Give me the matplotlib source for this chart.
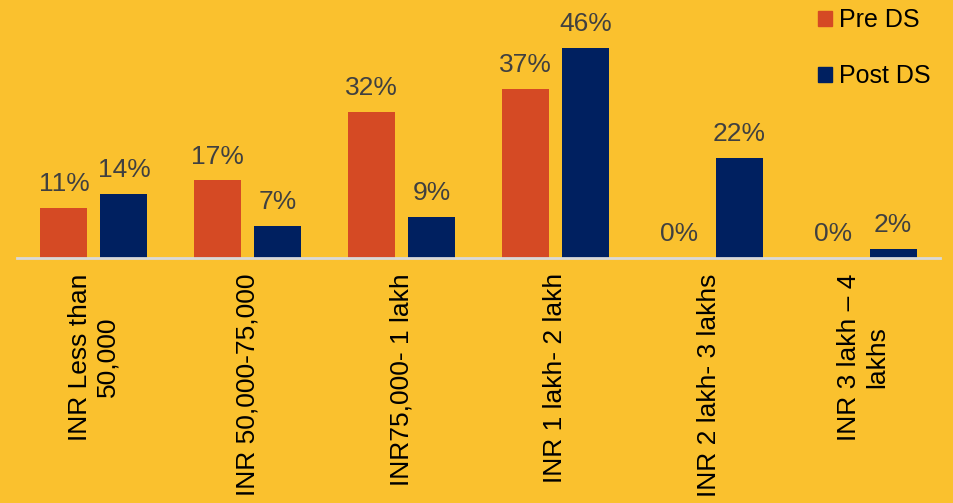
import numpy as np
import matplotlib.pyplot as plt
from matplotlib.patches import Patch

plt.rcParams['font.family'] = ['Liberation Sans', 'DejaVu Sans']

# Data
categories = ['INR Less than\n50,000', 'INR 50,000-75,000', 'INR75,000- 1 lakh',
              'INR 1 lakh- 2 lakh', 'INR 2 lakh- 3 lakhs', 'INR 3 lakh \u2013 4\nlakhs']
pre_ds = [11, 17, 32, 37, 0, 0]
post_ds = [14, 7, 9, 46, 22, 2]
series_names = ['Pre DS', 'Post DS']

bg = '#FAC12E'
c_pre = '#D54A24'
c_post = '#002060'

fig = plt.figure(figsize=(9.54, 5.03), dpi=100, facecolor=bg)
ax = fig.add_axes([17 / 954, 1 - 258 / 503, 923 / 954, 258 / 503])
ax.set_facecolor(bg)

x = np.arange(len(categories))
w = 0.305
off = 0.195
b1 = ax.bar(x - off, pre_ds, w, color=c_pre)
b2 = ax.bar(x + off, post_ds, w, color=c_post)

for bars, vals in ((b1, pre_ds), (b2, post_ds)):
    for rect, v in zip(bars, vals):
        ax.annotate(f'{v}%', (rect.get_x() + rect.get_width() / 2, v),
                    xytext=(0, 8.5), textcoords='offset points',
                    ha='center', va='bottom', fontsize=19, color='#404040')

ax.set_xlim(-0.5, len(categories) - 0.5)
ax.set_ylim(0, 56.5)
ax.set_yticks([])
ax.set_xticks(x)
ax.set_xticklabels(categories, rotation=90, fontsize=19, color='black',
                   ha='center', va='top', multialignment='center')
ax.tick_params(axis='x', length=0, pad=11)
for s in ('top', 'right', 'left'):
    ax.spines[s].set_visible(False)
ax.spines['bottom'].set_color('#D9D9D9')
ax.spines['bottom'].set_linewidth(2)

handles = [Patch(color=c_pre, label=series_names[0]),
           Patch(color=c_post, label=series_names[1])]
fig.legend(handles=handles, loc='upper left', bbox_to_anchor=(808 / 954, 1.004),
           frameon=False, fontsize=18, handlelength=0.55, handleheight=0.55,
           handletextpad=0.3, labelspacing=1.3, borderaxespad=0)

fig.savefig('out.png', dpi=100, facecolor=bg)
